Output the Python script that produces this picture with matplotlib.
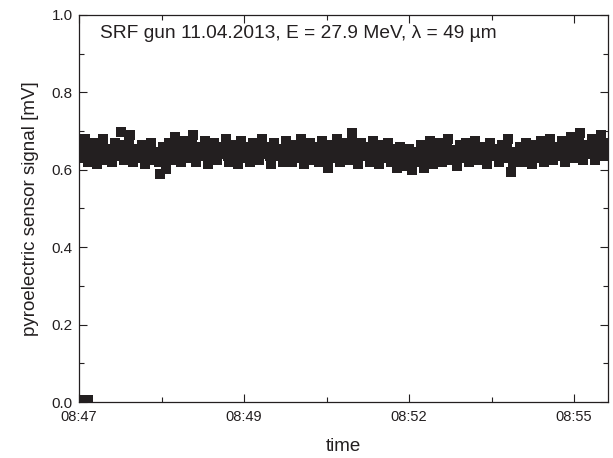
import matplotlib

matplotlib.use("Agg")
import matplotlib.pyplot as plt
import matplotlib.ticker as tick
import numpy as np

# time in seconds after 08:47:00, signal in mV
t_start = 0
t_step = 3
signal = [
    0.66, 0.63, 0.68, 0.62, 0.65, 0.67, 0.615, 0.64, 0.68, 0.625,
    0.655, 0.62, 0.67, 0.635, 0.698, 0.625, 0.66, 0.69, 0.62, 0.65,
    0.63, 0.665, 0.615, 0.655, 0.67, 0.625, 0.64, 0.59, 0.66, 0.603,
    0.67, 0.625, 0.685, 0.64, 0.62, 0.675, 0.655, 0.63, 0.69, 0.62,
    0.66, 0.635, 0.675, 0.615, 0.65, 0.67, 0.625, 0.66, 0.64, 0.68,
    0.62, 0.665, 0.645, 0.615, 0.675, 0.63, 0.66, 0.62, 0.67, 0.645,
    0.625, 0.68, 0.64, 0.66, 0.615, 0.67, 0.635, 0.655, 0.62, 0.675,
    0.645, 0.62, 0.665, 0.63, 0.68, 0.615, 0.655, 0.67, 0.625, 0.66,
    0.62, 0.675, 0.64, 0.605, 0.665, 0.63, 0.68, 0.62, 0.655, 0.67,
    0.625, 0.695, 0.645, 0.615, 0.67, 0.635, 0.66, 0.62, 0.675, 0.64,
    0.615, 0.665, 0.63, 0.67, 0.62, 0.655, 0.605, 0.66, 0.64, 0.61,
    0.655, 0.60, 0.645, 0.62, 0.665, 0.605, 0.64, 0.675, 0.615, 0.65,
    0.67, 0.62, 0.655, 0.68, 0.625, 0.645, 0.61, 0.665, 0.63, 0.67,
    0.62, 0.655, 0.675, 0.625, 0.64, 0.66, 0.615, 0.67, 0.635, 0.655,
    0.62, 0.665, 0.63, 0.68, 0.595, 0.645, 0.625, 0.66, 0.62, 0.67,
    0.64, 0.615, 0.665, 0.63, 0.675, 0.62, 0.655, 0.68, 0.625, 0.66,
    0.635, 0.675, 0.62, 0.66, 0.685, 0.63, 0.65, 0.695, 0.625, 0.665,
    0.64, 0.68, 0.625, 0.66, 0.69, 0.635, 0.67,
]
# samples in between (t_step / 2 later)
signal_mid = [
    0.645, 0.655, 0.64, 0.65, 0.635, 0.645, 0.66, 0.63, 0.65, 0.645,
    0.64, 0.65, 0.645, 0.66, 0.665, 0.64, 0.675, 0.655, 0.64, 0.635,
    0.65, 0.64, 0.645, 0.66, 0.635, 0.645, 0.62, 0.625, 0.64, 0.65,
    0.645, 0.655, 0.66, 0.63, 0.65, 0.645, 0.64, 0.665, 0.65, 0.64,
    0.645, 0.655, 0.64, 0.65, 0.66, 0.64, 0.645, 0.65, 0.66, 0.635,
    0.645, 0.64, 0.63, 0.65, 0.655, 0.645, 0.64, 0.65, 0.655, 0.635,
    0.65, 0.655, 0.645, 0.635, 0.645, 0.65, 0.645, 0.635, 0.65, 0.655,
    0.63, 0.645, 0.65, 0.655, 0.64, 0.635, 0.66, 0.645, 0.64, 0.65,
    0.645, 0.655, 0.625, 0.635, 0.65, 0.655, 0.645, 0.64, 0.66, 0.645,
    0.66, 0.67, 0.63, 0.645, 0.65, 0.645, 0.64, 0.655, 0.65, 0.63,
    0.64, 0.645, 0.65, 0.645, 0.635, 0.625, 0.63, 0.65, 0.625, 0.635,
    0.625, 0.625, 0.63, 0.64, 0.63, 0.62, 0.655, 0.64, 0.63, 0.64,
    0.645, 0.64, 0.665, 0.65, 0.635, 0.625, 0.64, 0.645, 0.65, 0.645,
    0.64, 0.66, 0.65, 0.635, 0.65, 0.64, 0.645, 0.65, 0.645, 0.64,
    0.645, 0.645, 0.655, 0.635, 0.62, 0.635, 0.64, 0.645, 0.645, 0.65,
    0.63, 0.64, 0.645, 0.65, 0.645, 0.64, 0.665, 0.65, 0.645, 0.65,
    0.655, 0.645, 0.64, 0.67, 0.66, 0.64, 0.675, 0.66, 0.645, 0.65,
    0.66, 0.655, 0.645, 0.675, 0.66, 0.65, 0.655,
]
# beam off at the very beginning
t_off = [1, 5, 9]
signal_off = [0.004, 0.004, 0.004]

tick_step = 165  # s between major ticks
t_max = 529

plt.rcParams["font.family"] = ["Liberation Sans", "DejaVu Sans"]


def hhmm(s, pos=None):
    total = 47 * 60 + s
    return f"08:{int(total // 60):02d}"


def _plot():
    fig = plt.figure(figsize=(6.13, 4.58), dpi=100)
    ax = fig.add_axes([79 / 613, 1 - 402 / 458, 529 / 613, 387 / 458])
    t = t_start + t_step * np.arange(len(signal))
    t_mid = t + t_step / 2
    color = "#231f20"
    ms = 6.8
    ax.plot(t, signal, "s", ms=ms, color=color, mew=0)
    ax.plot(t_mid, signal_mid, "s", ms=ms, color=color, mew=0)
    ax.plot(t_off, signal_off, "s", ms=ms, color=color, mew=0)

    ax.set_xlim(0, t_max)
    ax.set_ylim(0, 1)
    ax.xaxis.set_major_locator(tick.MultipleLocator(tick_step))
    ax.xaxis.set_minor_locator(tick.MultipleLocator(tick_step / 2))
    ax.xaxis.set_major_formatter(tick.FuncFormatter(hhmm))
    ax.yaxis.set_major_locator(tick.MultipleLocator(0.2))
    ax.yaxis.set_minor_locator(tick.MultipleLocator(0.1))
    ax.yaxis.set_major_formatter(tick.FormatStrFormatter("%.1f"))
    ax.tick_params(which="both", direction="in", top=True, right=True,
                   width=0.8, color=color, labelcolor=color)
    ax.tick_params(which="major", length=6)
    ax.tick_params(which="minor", length=3.5)
    ax.tick_params(axis="x", labelsize=10.5, pad=5.5)
    ax.tick_params(axis="y", labelsize=11, pad=4.5)
    for sp in ax.spines.values():
        sp.set_linewidth(0.9)
        sp.set_color(color)

    ax.set_xlabel("time", fontsize=13.5, color=color, labelpad=10)
    ax.set_ylabel("pyroelectric sensor signal [mV]", fontsize=13.5, color=color, labelpad=9)
    ax.text(0.04, 0.953, "SRF gun 11.04.2013, E = 27.9 MeV, λ = 49 µm",
            transform=ax.transAxes, fontsize=13.8, color=color, va="center", ha="left")
    return fig, ax


if __name__ == "__main__":
    fig, ax = _plot()
    fig.savefig("out.png", dpi=100)
    plt.close(fig)
